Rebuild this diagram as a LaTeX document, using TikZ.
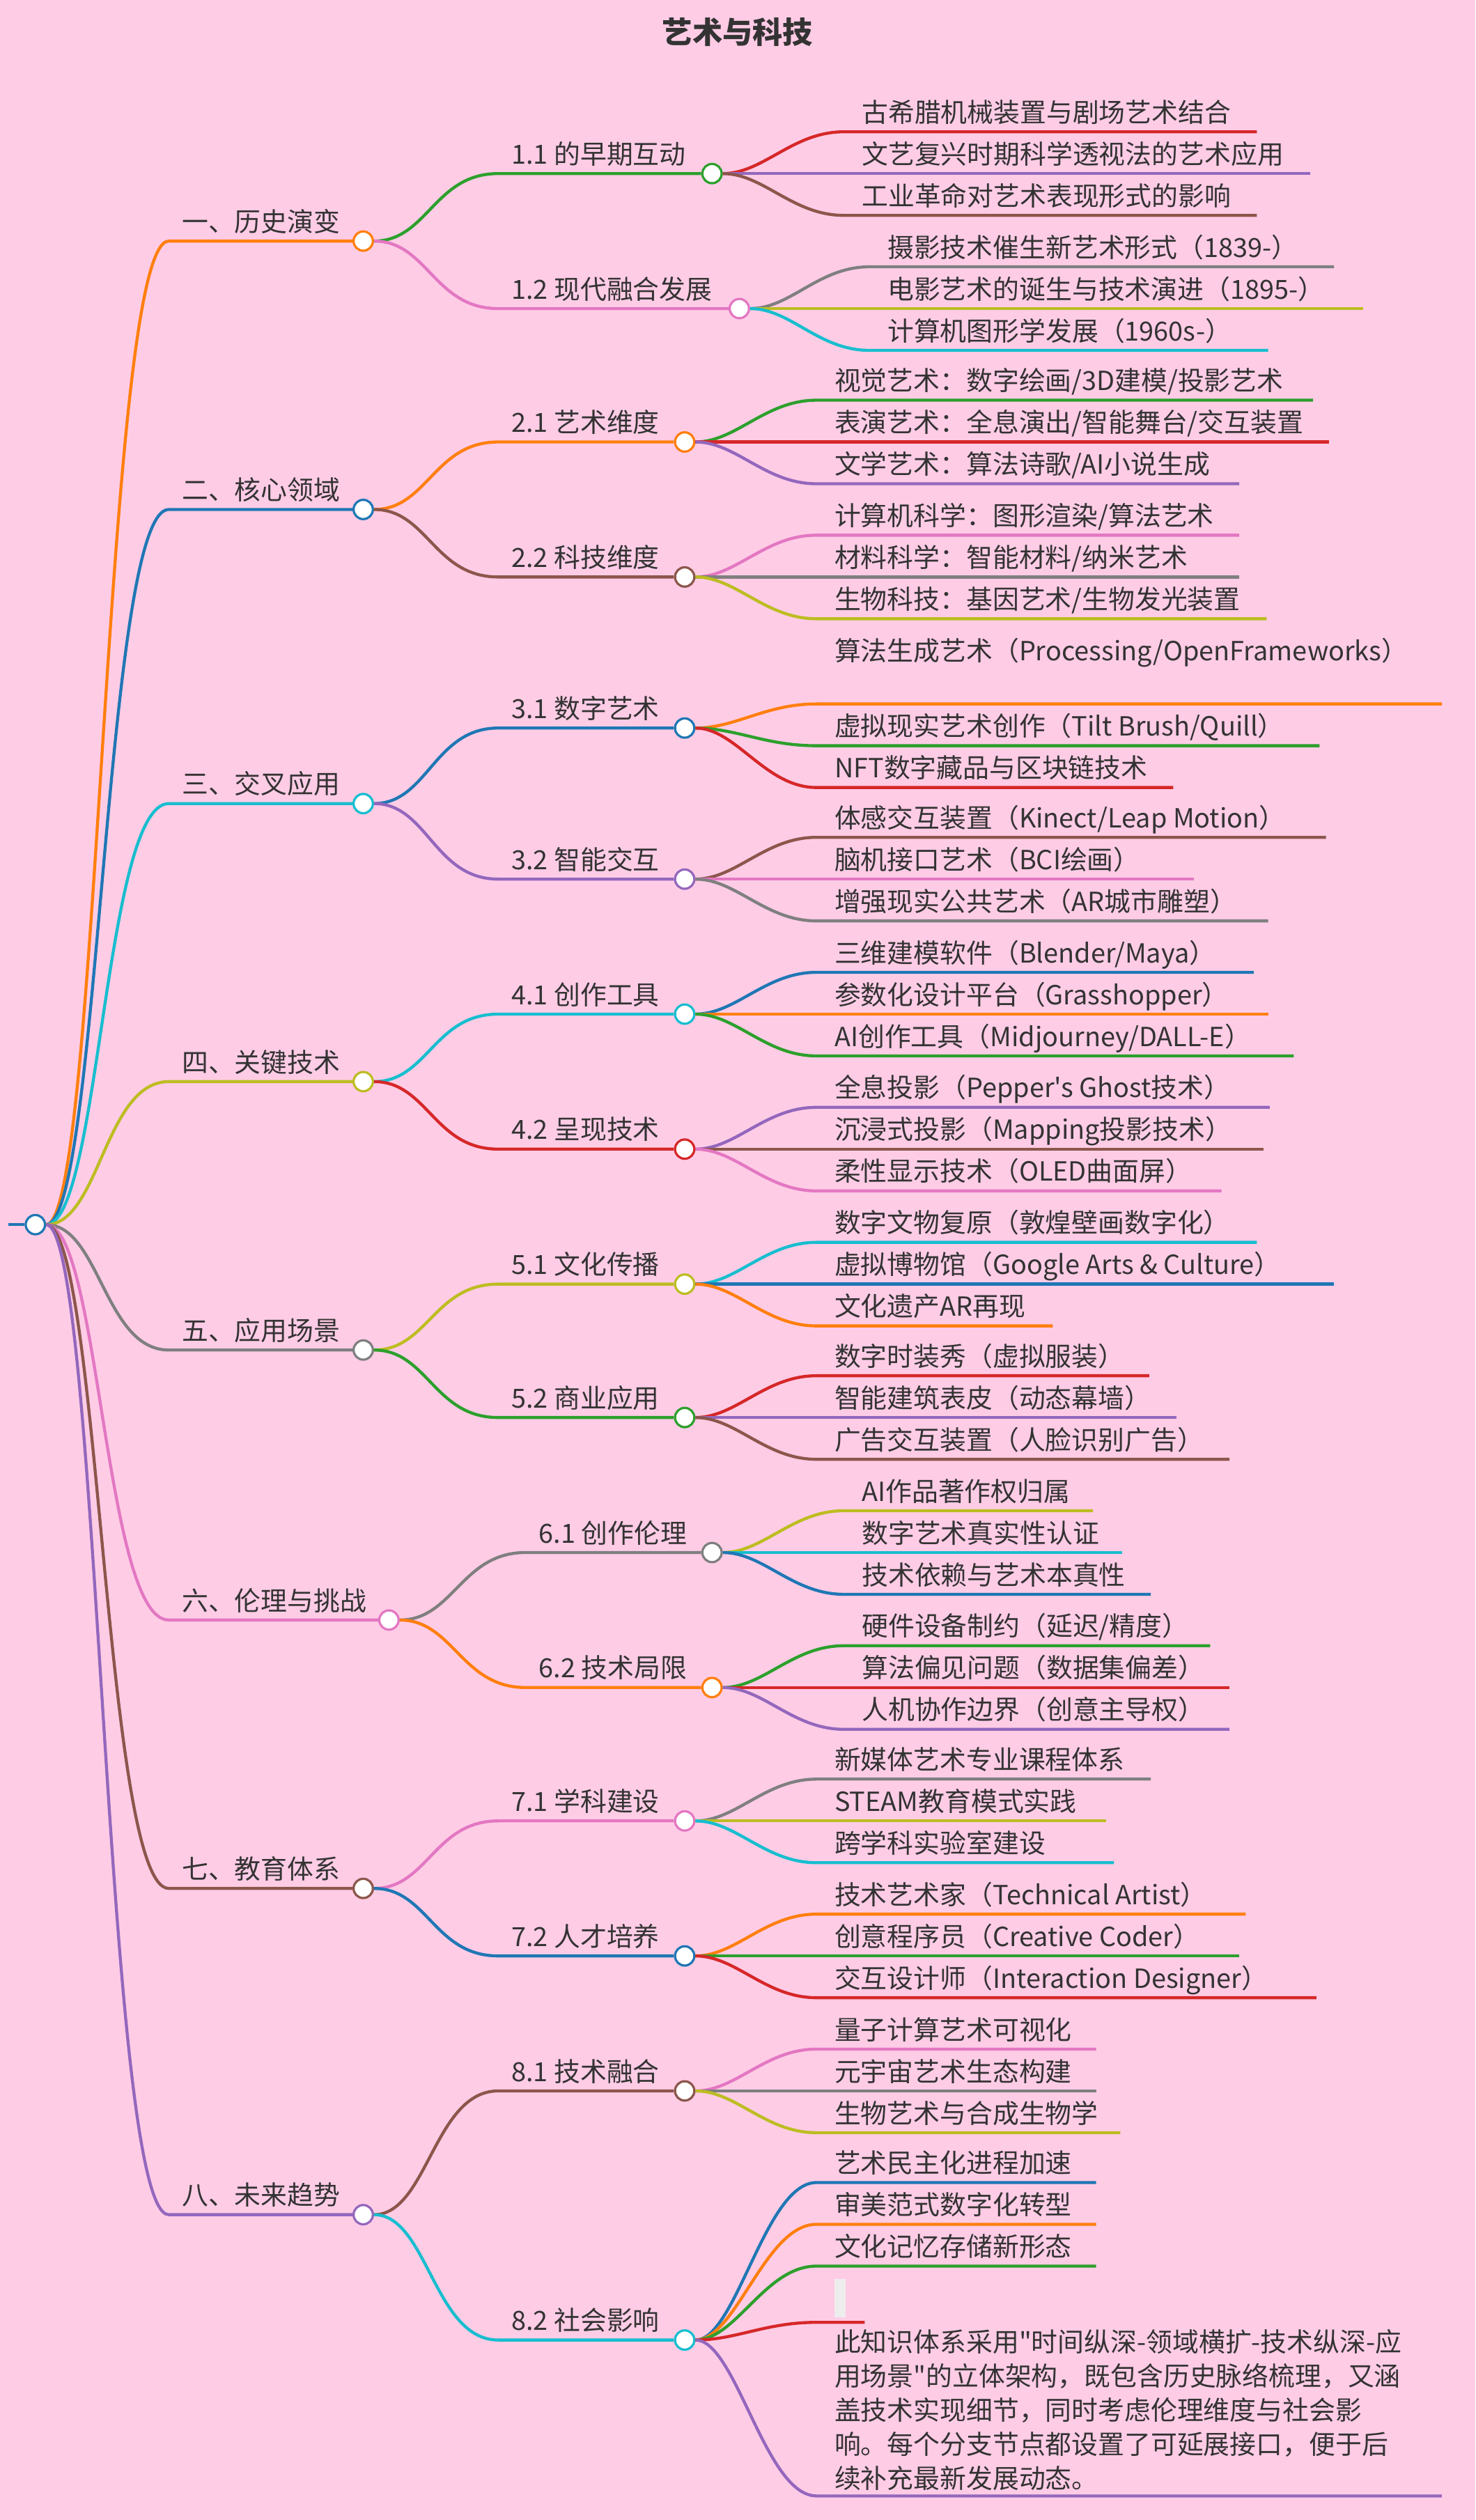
\documentclass[tikz,border=0pt]{standalone}
\usepackage{fontspec}
\setmainfont{Noto Sans CJK SC}[Ligatures=TeXOff]
\definecolor{tblue}{HTML}{1F77B4}
\definecolor{torange}{HTML}{FF7F0E}
\definecolor{tgreen}{HTML}{2CA02C}
\definecolor{tred}{HTML}{D62728}
\definecolor{tpurple}{HTML}{9467BD}
\definecolor{tbrown}{HTML}{8C564B}
\definecolor{tpink}{HTML}{E377C2}
\definecolor{tgray}{HTML}{7F7F7F}
\definecolor{tolive}{HTML}{BCBD22}
\definecolor{tcyan}{HTML}{17BECF}
\definecolor{bgpink}{HTML}{FFCCE6}
\definecolor{ink}{HTML}{333333}
\tikzset{
  dot/.style={circle,fill=white,line width=1.2pt,minimum size=0.36cm,inner sep=0pt},
  link/.style={line width=1.6pt},
  txt/.style={anchor=base west,inner sep=0pt,text=ink,font=\fontsize{14}{17}\selectfont},
}
% level 1: name, y, circle x, colour, text
\newcommand{\topic}[5]{
  \node[dot,draw=#4] (#1) at (#3,#2) {};
  \coordinate (#1-s) at (105,#2);
  \draw[link,#4] (root) .. controls +(40,0) and +(-40,0) .. (#1-s) -- (#1);
  \node[txt] (#1-t) at (113,#2-6) {#5};
}
% level 2: name, parent, start x, circle x, y, colour, text
\newcommand{\sub}[7]{
  \node[dot,draw=#6] (#1) at (#4,#5) {};
  \coordinate (#1-s) at (#3,#5);
  \draw[link,#6] (#2) .. controls +(40,0) and +(-40,0) .. (#1-s) -- (#1);
  \node[txt] (#1-t) at (#3+8,#5-6) {#7};
}
% leaf: name, parent, start x, y, end x, colour, text
\newcommand{\leaf}[7]{
  \coordinate (#1-s) at (#3,#4);
  \coordinate (#1-e) at (#5,#4);
  \draw[link,#6] (#2) .. controls +(32,0) and +(-32,0) .. (#1-s) -- (#1-e);
  \node[txt] (#1-t) at (#3+11,#4-6) {#7};
}
\begin{document}
\begin{tikzpicture}[x=0.03cm,y=-0.03cm]
\fill[bgpink] (0,0) rectangle (918,1568);
\useasboundingbox (0,0) rectangle (918,1568);
\node[text=ink,font=\fontsize{16}{19}\selectfont\bfseries] (title) at (459,20) {艺术与科技};

% root
\node[dot,draw=tblue] (root) at (22,762) {};
\coordinate (rootin) at (5,762);
\draw[link,tblue] (rootin) -- (root);

% main topics
\topic{t1}{150}{226}{torange}{一、历史演变}
\topic{t2}{317}{226}{tblue}{二、核心领域}
\topic{t3}{500}{226}{tcyan}{三、交叉应用}
\topic{t4}{673}{226}{tolive}{四、关键技术}
\topic{t5}{840}{226}{tgray}{五、应用场景}
\topic{t6}{1008}{242}{tpink}{六、伦理与挑战}
\topic{t7}{1175}{226}{tbrown}{七、教育体系}
\topic{t8}{1378}{226}{tpurple}{八、未来趋势}

% 1
\sub{s11}{t1}{310}{443}{108}{tgreen}{1.1 的早期互动}
\sub{s12}{t1}{310}{460}{192}{tpink}{1.2 现代融合发展}
\leaf{a1}{s11}{525}{82}{782}{tred}{古希腊机械装置与剧场艺术结合}
\leaf{a2}{s11}{525}{108}{815}{tpurple}{文艺复兴时期科学透视法的艺术应用}
\leaf{a3}{s11}{525}{134}{782}{tbrown}{工业革命对艺术表现形式的影响}
\leaf{b1}{s12}{541}{166}{830}{tgray}{摄影技术催生新艺术形式（1839-）}
\leaf{b2}{s12}{541}{192}{848}{tolive}{电影艺术的诞生与技术演进（1895-）}
\leaf{b3}{s12}{541}{218}{789}{tcyan}{计算机图形学发展（1960s-）}

% 2
\sub{s21}{t2}{310}{426}{275}{torange}{2.1 艺术维度}
\sub{s22}{t2}{310}{426}{359}{tbrown}{2.2 科技维度}
\leaf{c1}{s21}{508}{249}{817}{tgreen}{视觉艺术：数字绘画/3D建模/投影艺术}
\leaf{c2}{s21}{508}{275}{827}{tred}{表演艺术：全息演出/智能舞台/交互装置}
\leaf{c3}{s21}{508}{301}{771}{tpurple}{文学艺术：算法诗歌/AI小说生成}
\leaf{d1}{s22}{508}{333}{771}{tpink}{计算机科学：图形渲染/算法艺术}
\leaf{d2}{s22}{508}{359}{771}{tgray}{材料科学：智能材料/纳米艺术}
\leaf{d3}{s22}{508}{385}{788}{tolive}{生物科技：基因艺术/生物发光装置}

% 3
\sub{s31}{t3}{310}{426}{453}{tblue}{3.1 数字艺术}
\sub{s32}{t3}{310}{426}{547}{tpurple}{3.2 智能交互}
\leaf{e1}{s31}{508}{438}{897}{torange}{}
\node[txt] (e1-x) at (519,411) {算法生成艺术（Processing/OpenFrameworks）};
\leaf{e2}{s31}{508}{464}{821}{tgreen}{虚拟现实艺术创作（Tilt Brush/Quill）}
\leaf{e3}{s31}{508}{490}{730}{tred}{NFT数字藏品与区块链技术}
\leaf{f1}{s32}{508}{521}{825}{tbrown}{体感交互装置（Kinect/Leap Motion）}
\leaf{f2}{s32}{508}{547}{743}{tpink}{脑机接口艺术（BCI绘画）}
\leaf{f3}{s32}{508}{573}{789}{tgray}{增强现实公共艺术（AR城市雕塑）}

% 4
\sub{s41}{t4}{310}{426}{631}{tcyan}{4.1 创作工具}
\sub{s42}{t4}{310}{426}{715}{tred}{4.2 呈现技术}
\leaf{g1}{s41}{508}{605}{780}{tblue}{三维建模软件（Blender/Maya）}
\leaf{g2}{s41}{508}{631}{789}{torange}{参数化设计平台（Grasshopper）}
\leaf{g3}{s41}{508}{657}{805}{tgreen}{AI创作工具（Midjourney/DALL-E）}
\leaf{h1}{s42}{508}{689}{790}{tpurple}{全息投影（Pepper's Ghost技术）}
\leaf{h2}{s42}{508}{715}{786}{tbrown}{沉浸式投影（Mapping投影技术）}
\leaf{h3}{s42}{508}{741}{760}{tpink}{柔性显示技术（OLED曲面屏）}

% 5
\sub{s51}{t5}{310}{426}{799}{tolive}{5.1 文化传播}
\sub{s52}{t5}{310}{426}{882}{tgreen}{5.2 商业应用}
\leaf{i1}{s51}{508}{773}{782}{tcyan}{数字文物复原（敦煌壁画数字化）}
\leaf{i2}{s51}{508}{799}{830}{tblue}{虚拟博物馆（Google Arts \& Culture）}
\leaf{i3}{s51}{508}{825}{655}{torange}{文化遗产AR再现}
\leaf{j1}{s52}{508}{856}{715}{tred}{数字时装秀（虚拟服装）}
\leaf{j2}{s52}{508}{882}{732}{tpurple}{智能建筑表皮（动态幕墙）}
\leaf{j3}{s52}{508}{908}{765}{tbrown}{广告交互装置（人脸识别广告）}

% 6
\sub{s61}{t6}{327}{443}{966}{tgray}{6.1 创作伦理}
\sub{s62}{t6}{327}{443}{1050}{torange}{6.2 技术局限}
\leaf{k1}{s61}{525}{940}{680}{tolive}{AI作品著作权归属}
\leaf{k2}{s61}{525}{966}{698}{tcyan}{数字艺术真实性认证}
\leaf{k3}{s61}{525}{992}{716}{tblue}{技术依赖与艺术本真性}
\leaf{l1}{s62}{525}{1024}{753}{tgreen}{硬件设备制约（延迟/精度）}
\leaf{l2}{s62}{525}{1050}{765}{tred}{算法偏见问题（数据集偏差）}
\leaf{l3}{s62}{525}{1076}{765}{tpurple}{人机协作边界（创意主导权）}

% 7
\sub{s71}{t7}{310}{426}{1133}{tpink}{7.1 学科建设}
\sub{s72}{t7}{310}{426}{1217}{tblue}{7.2 人才培养}
\leaf{m1}{s71}{508}{1107}{716}{tgray}{新媒体艺术专业课程体系}
\leaf{m2}{s71}{508}{1133}{688}{tolive}{STEAM教育模式实践}
\leaf{m3}{s71}{508}{1159}{693}{tcyan}{跨学科实验室建设}
\leaf{n1}{s72}{508}{1191}{775}{torange}{技术艺术家（Technical Artist）}
\leaf{n2}{s72}{508}{1217}{771}{tgreen}{创意程序员（Creative Coder）}
\leaf{n3}{s72}{508}{1243}{819}{tred}{交互设计师（Interaction Designer）}

% 8
\sub{s81}{t8}{310}{426}{1301}{tbrown}{8.1 技术融合}
\sub{s82}{t8}{310}{426}{1456}{tcyan}{8.2 社会影响}
\leaf{o1}{s81}{508}{1275}{682}{tpink}{量子计算艺术可视化}
\leaf{o2}{s81}{508}{1301}{682}{tgray}{元宇宙艺术生态构建}
\leaf{o3}{s81}{508}{1327}{697}{tolive}{生物艺术与合成生物学}
\leaf{p1}{s82}{508}{1358}{682}{tblue}{艺术民主化进程加速}
\leaf{p2}{s82}{508}{1384}{682}{torange}{审美范式数字化转型}
\leaf{p3}{s82}{508}{1410}{682}{tgreen}{文化记忆存储新形态}
\leaf{p4}{s82}{508}{1445}{538}{tred}{}
\fill[black!7] (p4-s) ++(11,-27) rectangle ++(7,24);
\leaf{p5}{s82}{508}{1553}{897}{tpurple}{}
\node[anchor=north west,inner sep=0pt,text=ink,align=left,
      font=\fontsize{14}{18.2}\selectfont] (p5-x) at (519,1449)
  {此知识体系采用"时间纵深-领域横扩-技术纵深-应\\
   用场景"的立体架构，既包含历史脉络梳理，又涵\\
   盖技术实现细节，同时考虑伦理维度与社会影\\
   响。每个分支节点都设置了可延展接口，便于后\\
   续补充最新发展动态。};
\end{tikzpicture}
\end{document}
